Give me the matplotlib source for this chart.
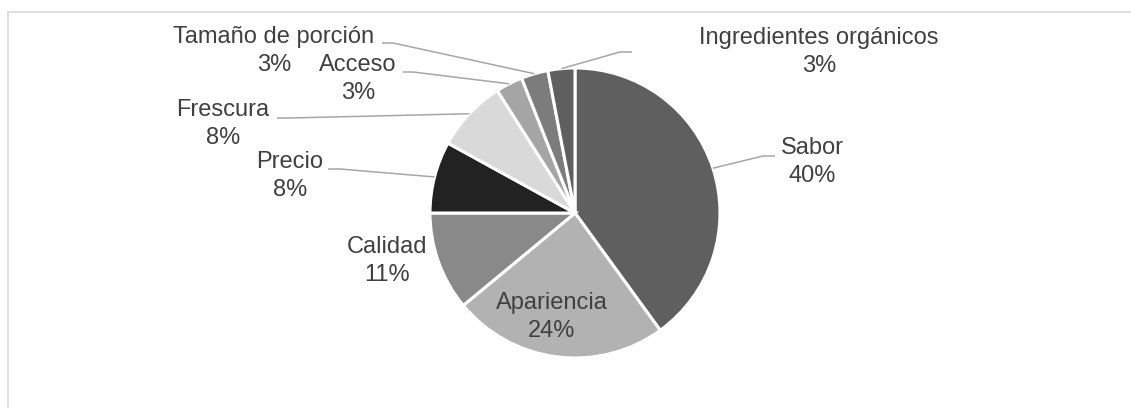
import numpy as np
import matplotlib.pyplot as plt
from matplotlib.lines import Line2D

plt.rcParams['font.family'] = ['Liberation Sans', 'DejaVu Sans']

# Chart data
labels = ["Sabor", "Apariencia", "Calidad", "Precio", "Frescura",
          "Acceso", "Tamaño de porción", "Ingredientes orgánicos"]
shares = [40, 24, 11, 8, 8, 3, 3, 3]
colors = ["#5f5f5f", "#b2b2b2", "#898989", "#222222", "#d9d9d9",
          "#a5a5a5", "#7c7c7c", "#5f5f5f"]

# Label placement in pixels: text centre, then elbow and end of the leader (None = no leader)
label_pos = [(812, 162), (552, 317), (387, 261), (290, 176),
             (223, 124), (358, 79), (274, 51), (819, 52)]
leaders = [((763, 156), (775, 156)), None, None,
           ((340, 169), (328, 169)), ((290, 118), (277, 118)),
           ((413, 72), (403, 72)), ((393, 43), (382, 43)),
           ((620, 52), (632, 52))]

W, H = 1131, 408
fig = plt.figure(figsize=(W / 100, H / 100), dpi=100)

# Pie centred at (575, 213) with radius 145 px
cx, cy, r = 575, 213, 145
ax = fig.add_axes([(cx - r) / W, (H - cy - r) / H, 2 * r / W, 2 * r / H])
wedges, _ = ax.pie(shares, colors=colors, startangle=90, counterclock=False,
                   radius=1, wedgeprops=dict(edgecolor='white', linewidth=2.2))
ax.set_xlim(-1, 1)
ax.set_ylim(-1, 1)
ax.set_aspect('equal')
ax.axis('off')

# Overlay in pixel coordinates for labels, leaders and frame, drawn above the pie
over = fig.add_axes([0, 0, 1, 1])
over.set_xlim(0, W)
over.set_ylim(H, 0)
over.axis('off')
over.set_zorder(2)

fig.canvas.draw()
to_over = over.transData.inverted()

gap = 28.5  # distance between name line and percent line
txt = dict(ha='center', va='center', fontsize=17, color='#404040')
for w, lab, val, pos, ld in zip(wedges, labels, shares, label_pos, leaders):
    over.text(pos[0], pos[1] - gap / 2, lab, **txt)
    over.text(pos[0], pos[1] + gap / 2, f"{val}%", **txt)
    if ld is None:
        continue
    ang = np.deg2rad((w.theta1 + w.theta2) / 2)
    disp = ax.transData.transform((np.cos(ang), np.sin(ang)))
    sx, sy = to_over.transform(disp)
    (ex, ey), (tx, ty) = ld
    over.plot([sx, ex, tx], [sy, ey, ty], color='#a6a6a6', lw=1.1,
              solid_capstyle='butt')

# Chart area border (only top and left edges fall inside the image)
over.add_line(Line2D([8, W], [12, 12], color='#d9d9d9', lw=1.2))
over.add_line(Line2D([8, 8], [12, H], color='#d9d9d9', lw=1.2))

fig.savefig('out.png', dpi=100, facecolor='white')
